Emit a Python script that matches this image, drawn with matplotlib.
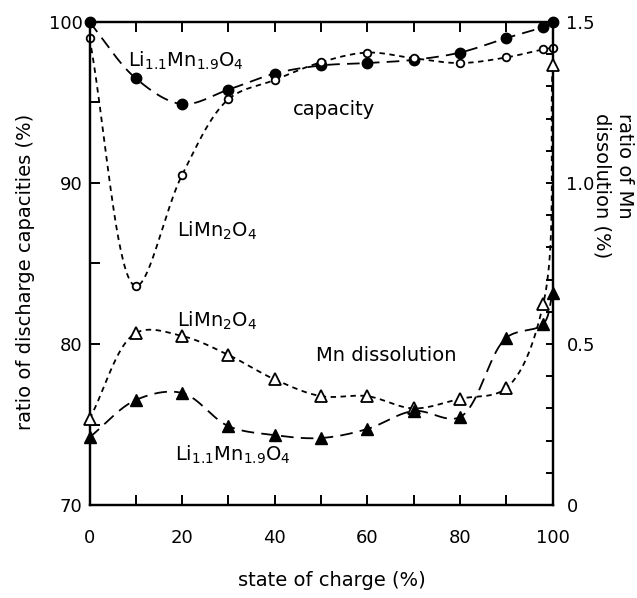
import numpy as np
import matplotlib
matplotlib.use("Agg")
import matplotlib.pyplot as plt

# ---------------- data ----------------
soc = [0, 10, 20, 30, 40, 50, 60, 70, 80, 90, 98, 100]
cap_li11 = [100.0, 96.5, 94.9, 95.8, 96.8, 97.3, 97.45, 97.65, 98.1, 99.0, 99.7, 100.0]
cap_limn = [99.0, 83.6, 90.5, 95.2, 96.4, 97.5, 98.1, 97.75, 97.45, 97.8, 98.3, 98.4]
mn_limn = [0.267, 0.534, 0.525, 0.466, 0.39, 0.338, 0.338, 0.30, 0.33, 0.363, 0.624, 1.366]
mn_li11 = [0.21, 0.326, 0.348, 0.245, 0.217, 0.208, 0.236, 0.292, 0.273, 0.519, 0.562, 0.658]

x_ticks = [0, 20, 40, 60, 80, 100]
left_ticks = [70, 80, 90, 100]
right_ticks = [0, 0.5, 1.0, 1.5]
right_ticklabels = ["0", "0.5", "1.0", "1.5"]


def smooth(xs, ys, xr, yr, aspect=1.04, n=40, alpha=0.5):
    """Centripetal Catmull-Rom curve through the given points (for drawing)."""
    xs = np.asarray(xs, float)
    ys = np.asarray(ys, float)
    P = np.column_stack([(xs - xr[0]) / (xr[1] - xr[0]),
                         (ys - yr[0]) / (yr[1] - yr[0]) * aspect])
    P = np.vstack([2 * P[0] - P[1], P, 2 * P[-1] - P[-2]])
    pts = []
    for i in range(len(P) - 3):
        p0, p1, p2, p3 = P[i:i + 4]
        d = lambda a, b: max(np.linalg.norm(b - a) ** alpha, 1e-6)
        t0 = 0.0
        t1 = t0 + d(p0, p1)
        t2 = t1 + d(p1, p2)
        t3 = t2 + d(p2, p3)
        t = np.linspace(t1, t2, n)[:, None]
        A1 = (t1 - t) / (t1 - t0) * p0 + (t - t0) / (t1 - t0) * p1
        A2 = (t2 - t) / (t2 - t1) * p1 + (t - t1) / (t2 - t1) * p2
        A3 = (t3 - t) / (t3 - t2) * p2 + (t - t2) / (t3 - t2) * p3
        B1 = (t2 - t) / (t2 - t0) * A1 + (t - t0) / (t2 - t0) * A2
        B2 = (t3 - t) / (t3 - t1) * A2 + (t - t1) / (t3 - t1) * A3
        C = (t2 - t) / (t2 - t1) * B1 + (t - t1) / (t2 - t1) * B2
        pts.append(C)
    C = np.vstack(pts)
    X = C[:, 0] * (xr[1] - xr[0]) + xr[0]
    Y = C[:, 1] / aspect * (yr[1] - yr[0]) + yr[0]
    return X, Y


plt.rcParams["font.family"] = ["DejaVu Sans"]
plt.rcParams["mathtext.fontset"] = "dejavusans"

W, H = 637, 598
fig = plt.figure(figsize=(W / 100, H / 100), dpi=100)
ax = fig.add_axes([89.5 / W, 1 - 505 / H, (552.5 - 89.5) / W, (505 - 22) / H])
ax2 = ax.twinx()

xr = (0, 100)
yr1 = (70, 100)
yr2 = (0, 1.5)

long_dash = (0, (7, 4))
short_dash = (0, (3, 2.5))
lw = 1.3

# capacity curves
X, Y = smooth(soc, cap_li11, xr, yr1)
ax.plot(X, Y, color="black", lw=lw, linestyle=long_dash, clip_on=False)
ax.plot(soc, cap_li11, "o", color="black", ms=7.5, clip_on=False, zorder=5)

X, Y = smooth(soc, cap_limn, xr, yr1)
ax.plot(X, Y, color="black", lw=lw, linestyle=short_dash, clip_on=False)
ax.plot(soc, cap_limn, "o", mfc="white", mec="black", mew=1.3, ms=5.5,
        clip_on=False, zorder=5)

# Mn dissolution curves
X, Y = smooth(soc, mn_limn, xr, yr2)
ax2.plot(X, Y, color="black", lw=lw, linestyle=short_dash, clip_on=False)
ax2.plot(soc, mn_limn, "^", mfc="white", mec="black", mew=1.3, ms=8,
         clip_on=False, zorder=5)

X, Y = smooth(soc, mn_li11, xr, yr2)
ax2.plot(X, Y, color="black", lw=lw, linestyle=long_dash, clip_on=False)
ax2.plot(soc, mn_li11, "^", color="black", ms=8, clip_on=False, zorder=5)

# axes limits & ticks
ax.set_xlim(*xr)
ax.set_ylim(*yr1)
ax2.set_ylim(*yr2)

ax.set_xticks(x_ticks)
ax.set_xticks(np.arange(10, 100, 20), minor=True)
ax.set_yticks(left_ticks)
ax.set_yticks([75, 85, 95], minor=True)
ax2.set_yticks(right_ticks)
ax2.set_yticklabels(right_ticklabels)
ax2.set_yticks(np.arange(0.1, 1.5, 0.1), minor=True)

for a in (ax, ax2):
    for s in a.spines.values():
        s.set_linewidth(1.6)

ax.tick_params(axis="x", which="both", direction="in", length=7, width=1.4,
               top=True, labelsize=13, pad=17)
ax.tick_params(axis="y", which="both", direction="in", length=7, width=1.4,
               right=False, labelsize=13, pad=5)
ax2.tick_params(axis="y", which="both", direction="in", length=5, width=1.4,
                labelsize=13, pad=10)

# axis labels
fig.text(26 / W, 1 - 272 / H, "ratio of discharge capacities (%)", rotation=90,
         ha="center", va="center", fontsize=14)
fig.text(332 / W, 1 - 581 / H, "state of charge (%)", ha="center", va="center",
         fontsize=14)
fig.text(613 / W, 1 - 113 / H, "ratio of Mn\ndissolution (%)", rotation=270,
         ha="center", va="top", multialignment="left", fontsize=14,
         linespacing=1.25)

# annotations
def note(px, py, s):
    fig.text(px / W, 1 - py / H, s, ha="left", va="baseline", fontsize=14)

note(128, 67, r"Li$_{1.1}$Mn$_{1.9}$O$_4$")
note(293, 115, "capacity")
note(177, 237, r"LiMn$_2$O$_4$")
note(177, 327, r"LiMn$_2$O$_4$")
note(316, 361, "Mn dissolution")
note(175, 461, r"Li$_{1.1}$Mn$_{1.9}$O$_4$")

fig.savefig("out.png", dpi=100)
